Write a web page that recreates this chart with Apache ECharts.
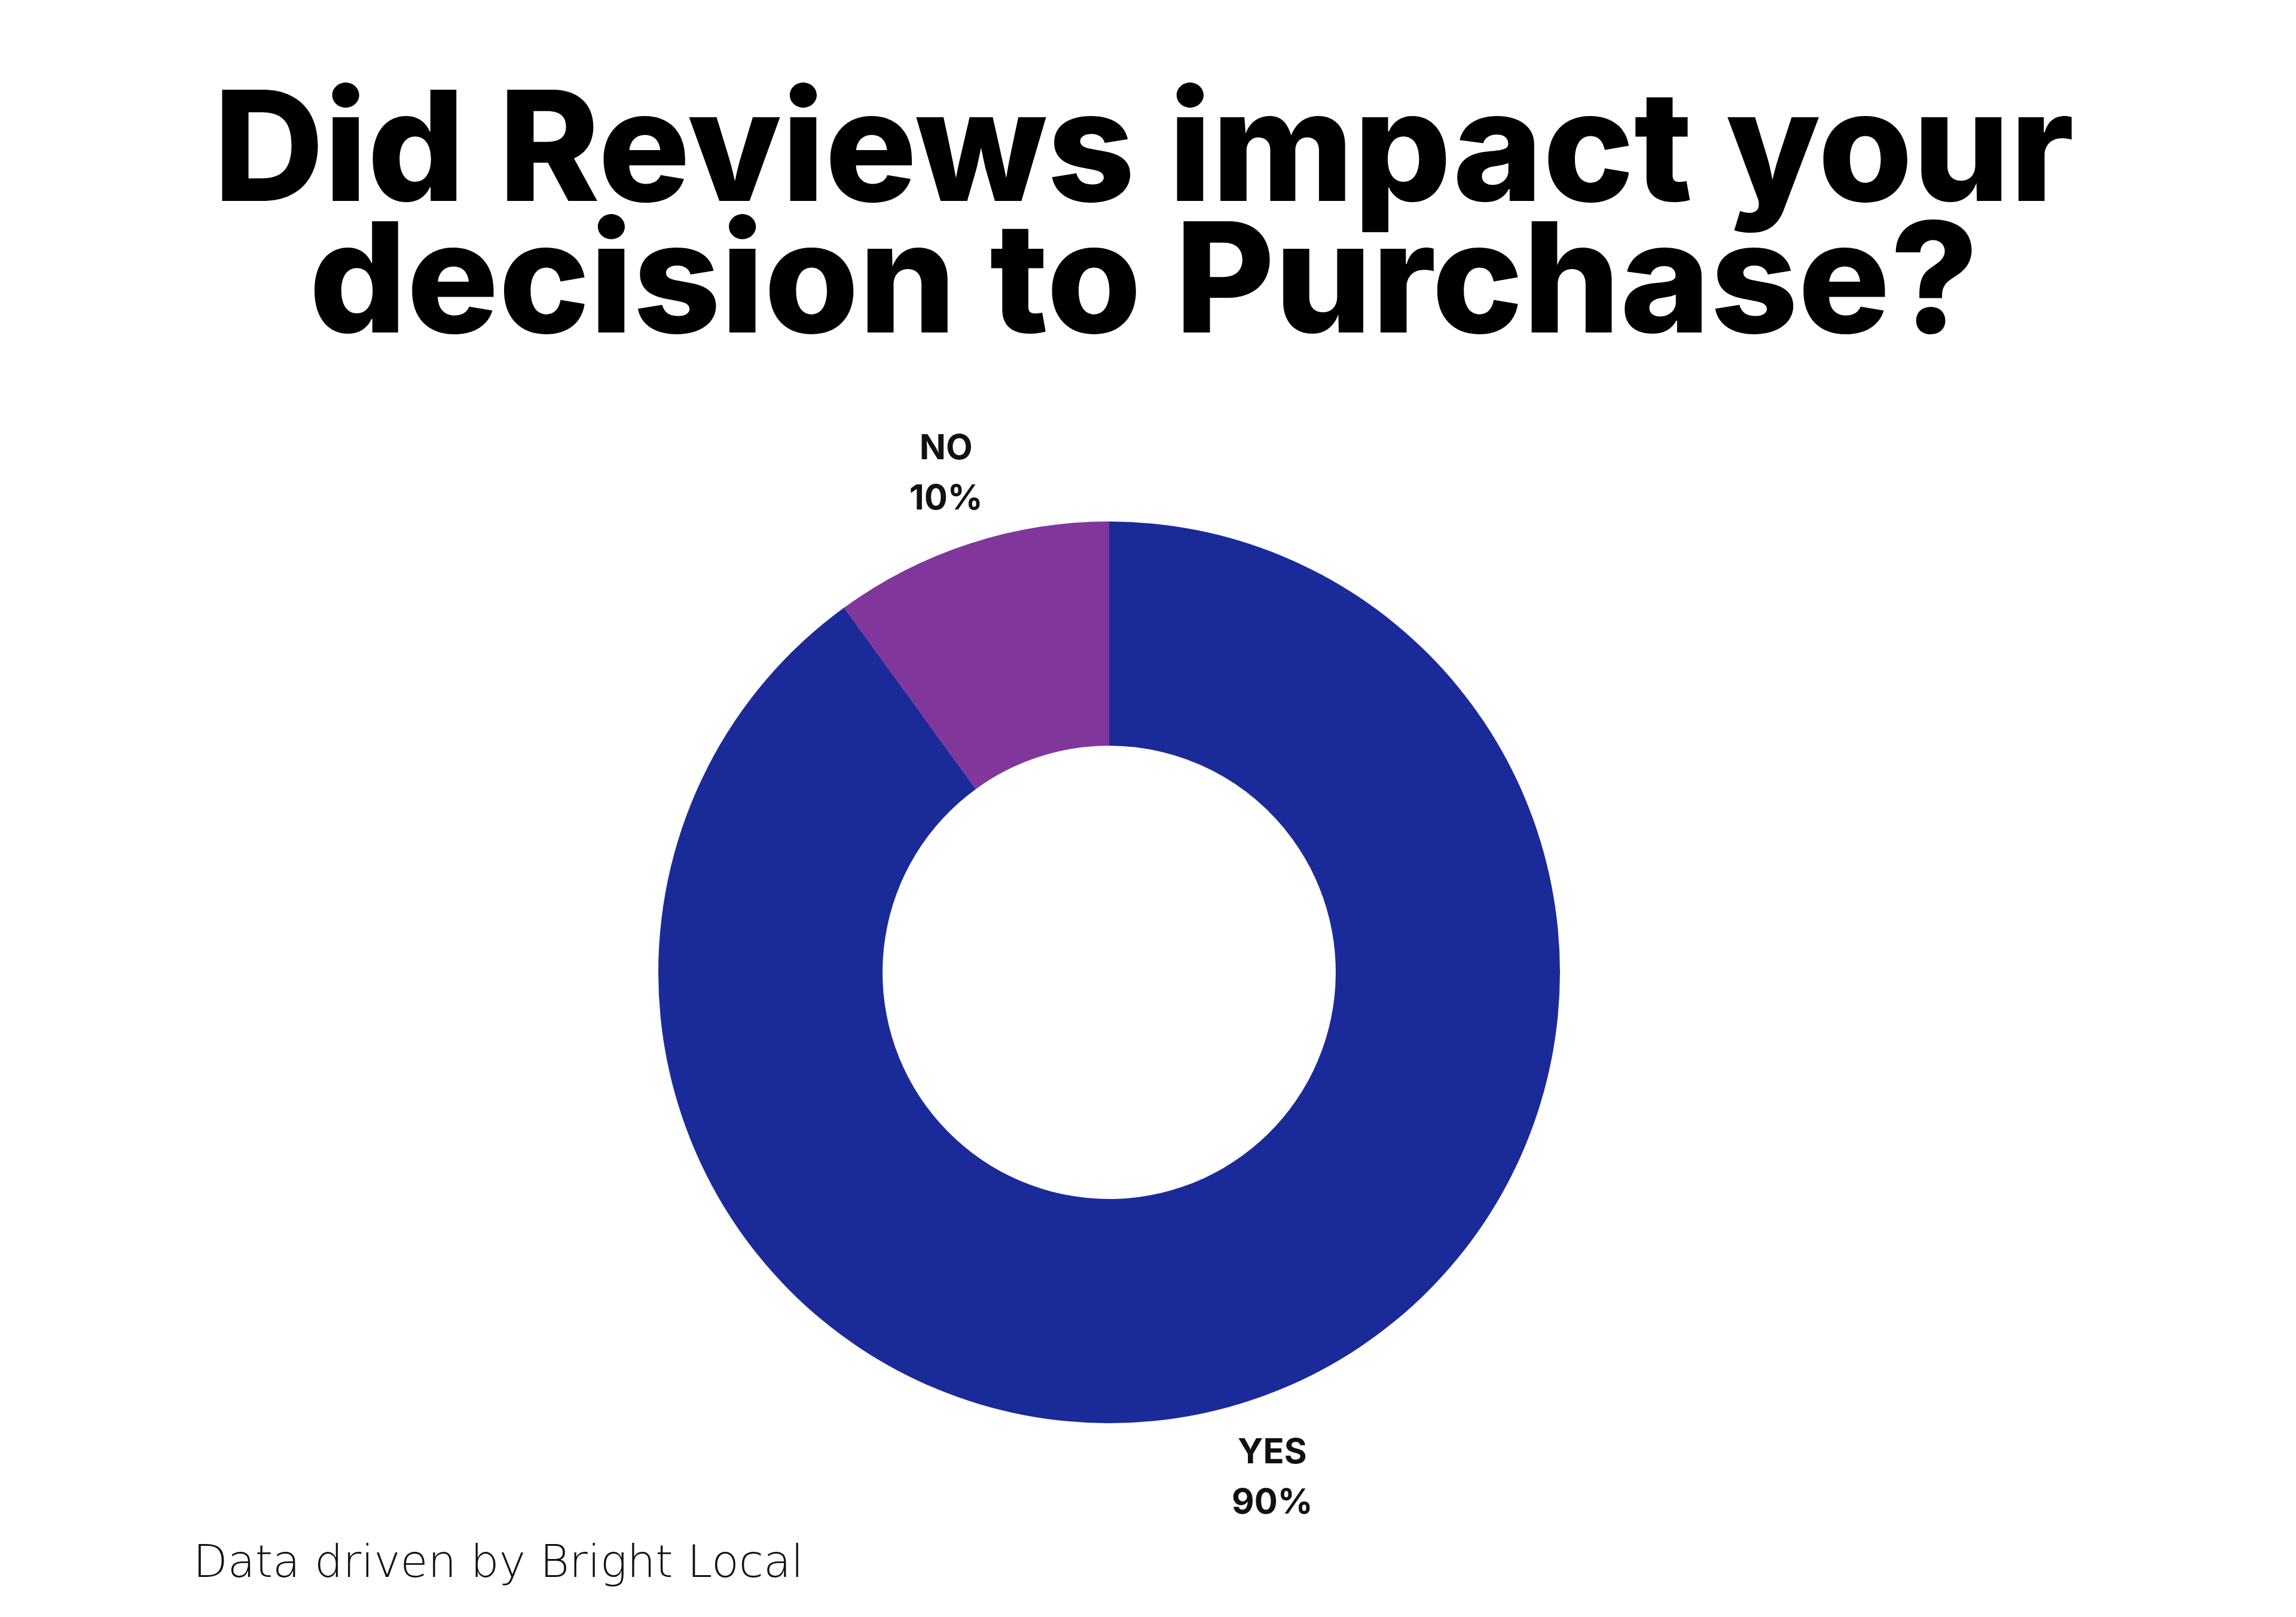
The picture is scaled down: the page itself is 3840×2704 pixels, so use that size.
<!DOCTYPE html>
<html>
<head>
<meta charset="utf-8">
<script src="https://cdn.jsdelivr.net/npm/echarts@6/dist/echarts.min.js"></script>
<style>
html,body{margin:0;padding:0;background:#fff;}
#chart{width:3840px;height:2704px;}
</style>
</head>
<body>
<div id="chart"></div>
<script>
const titleText = 'Did Reviews impact your\ndecision to Purchase?';
const footerText = 'Data driven by Bright Local';
const categories = ['YES', 'NO'];
const values = [90, 10];
const colors = ['#1a2b99', '#81369c'];

const pieData = categories.map((c, i) => ({ name: c, value: values[i], itemStyle: { color: colors[i] } }));
const labelData = categories.map((c, i) => ({ name: c, value: values[i] }));

const chart = echarts.init(document.getElementById('chart'), null, { renderer: 'canvas' });
chart.setOption({
  animation: false,
  backgroundColor: '#ffffff',
  title: [
    {
      text: titleText,
      left: 1908,
      top: 144,
      textAlign: 'center',
      textStyle: {
        fontFamily: 'Inter',
        fontWeight: 800,
        fontSize: 256,
        lineHeight: 220,
        color: '#000000'
      }
    },
    {
      text: footerText,
      left: 318,
      top: 2575,
      textStyle: {
        fontFamily: 'DejaVu Sans',
        fontWeight: 300,
        fontSize: 75,
        color: '#111111'
      }
    }
  ],
  series: [
    {
      type: 'pie',
      center: [1855, 1626],
      radius: [379, 754],
      startAngle: 90,
      clockwise: true,
      silent: true,
      label: { show: false },
      labelLine: { show: false },
      data: pieData
    },
    {
      type: 'pie',
      center: [1855, 1626],
      radius: [860, 900],
      startAngle: 90,
      clockwise: true,
      silent: true,
      itemStyle: { color: 'rgba(0,0,0,0)' },
      label: {
        show: true,
        position: 'inside',
        formatter: '{b}\n{c}%',
        fontFamily: 'Inter',
        fontWeight: 700,
        fontSize: 58,
        lineHeight: 84,
        offset: [0, 6],
        color: '#111111'
      },
      labelLine: { show: false },
      data: labelData
    }
  ]
});
</script>
</body>
</html>
